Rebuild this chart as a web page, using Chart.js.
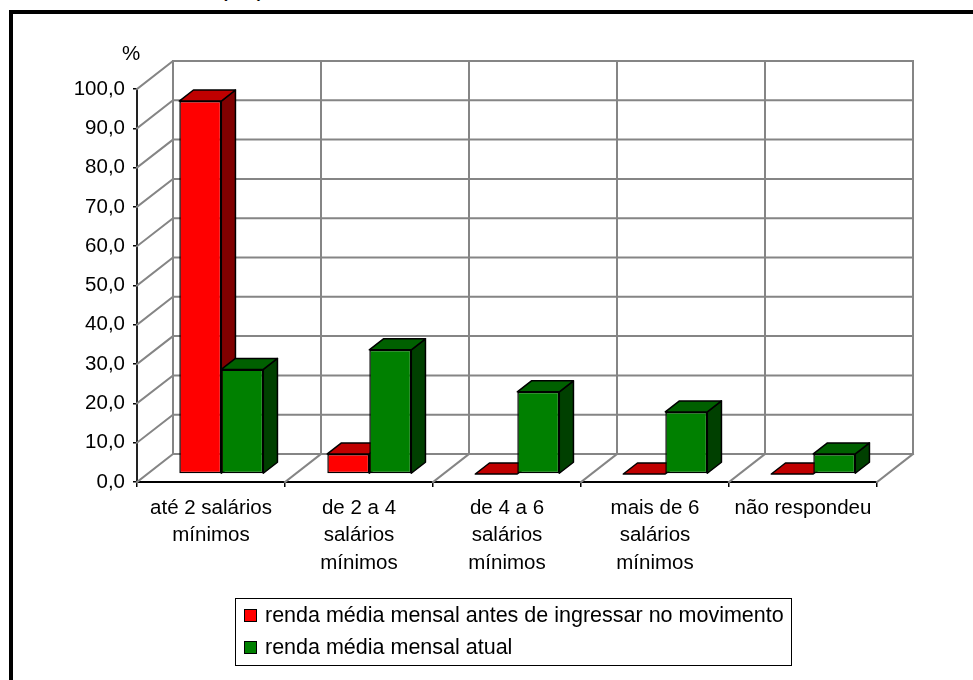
<!DOCTYPE html>
<html>
<head>
<meta charset="utf-8">
<script src="https://cdn.jsdelivr.net/npm/chart.js@4.4.1/dist/chart.umd.min.js"></script>
<style>
    body { margin: 0; background: #fff; }
    .wrap { position: relative; width: 973px; height: 680px; overflow: hidden; font-family: 'Liberation Sans', Arial, sans-serif; }
    .frame { position: absolute; left: 9px; top: 10px; width: 1000px; height: 700px; border: 4px solid #000; }
    .title { position: absolute; left: 219px; top: -26px; font-size: 26px; line-height: 26px; letter-spacing: 3px; }
    #renda { position: absolute; left: 0; top: 0; }
    #legend { position: absolute; left: 235px; top: 598px; width: 557px; height: 68px; box-sizing: border-box;
              border: 1px solid #000; padding-top: 0; font-size: 21.5px; }
    #legend .item { display: flex; align-items: center; height: 32px; }
    #legend .box { width: 13px; height: 13px; box-sizing: border-box; border: 1.5px solid #000; margin-left: 8px; margin-right: 8px; }
</style>
</head>
<body>
<div class="wrap">
    <div class="frame"></div>
    <div class="title">(%)</div>
    <canvas id="renda" width="973" height="680"></canvas>
    <div id="legend"></div>
</div>

<script>
    // faixas de renda
    const categories = [
        ['até 2 salários', 'mínimos'],
        ['de 2 a 4', 'salários', 'mínimos'],
        ['de 4 a 6', 'salários', 'mínimos'],
        ['mais de 6', 'salários', 'mínimos'],
        'não respondeu'
    ];
    const seriesNames = ['renda média mensal antes de ingressar no movimento', 'renda média mensal atual'];
    const rendaAntes = [94.9, 5.1, 0, 0, 0];
    const rendaAtual = [26.6, 31.6, 20.9, 15.8, 5.1];
    const yMin = 0, yMax = 100, yStep = 10;

    // profundidade do "3D": vetor da frente até a parede do fundo
    const depth = { dx: 36, dy: -28 };
    const barFront = 0.286, barBack = 0.679;
    const font = "'Liberation Sans', Arial, sans-serif";

    function line(ctx, pts) {
        ctx.beginPath();
        ctx.moveTo(pts[0][0], pts[0][1]);
        for (let i = 1; i < pts.length; i++) ctx.lineTo(pts[i][0], pts[i][1]);
        ctx.stroke();
    }

    function poly(ctx, pts, fill) {
        ctx.beginPath();
        ctx.moveTo(pts[0][0], pts[0][1]);
        for (let i = 1; i < pts.length; i++) ctx.lineTo(pts[i][0], pts[i][1]);
        ctx.closePath();
        ctx.fillStyle = fill;
        ctx.fill();
        ctx.stroke();
    }

    const wall3d = {
        id: 'wall3d',
        beforeDatasetsDraw(chart) {
            const { ctx, chartArea: a, scales: { x, y } } = chart;
            const { dx, dy } = depth;
            const n = chart.data.labels.length;
            const step = (a.right - a.left) / n;
            const y0 = y.getPixelForValue(y.min);
            const yTop = y.getPixelForValue(y.max);

            ctx.save();
            ctx.strokeStyle = '#858585';
            ctx.lineWidth = 2;
            ctx.lineCap = 'square';
            // parede lateral e linhas horizontais do fundo
            y.ticks.forEach(t => {
                const yy = y.getPixelForValue(t.value);
                line(ctx, [[a.left, yy], [a.left + dx, yy + dy], [a.right + dx, yy + dy]]);
            });
            // divisões verticais do fundo e do piso
            for (let i = 0; i <= n; i++) {
                const bx = a.left + i * step;
                line(ctx, [[bx + dx, y0 + dy], [bx + dx, yTop + dy]]);
                if (i > 0) line(ctx, [[bx, y0], [bx + dx, y0 + dy]]);
            }

            // laterais e topos das barras
            const ox = barFront * dx, oy = barFront * dy;
            const sx = (barBack - barFront) * dx, sy = (barBack - barFront) * dy;
            ctx.strokeStyle = '#000';
            ctx.lineWidth = 1.5;
            ctx.lineJoin = 'round';
            chart.data.datasets.forEach((ds, di) => {
                chart.getDatasetMeta(di).data.forEach(el => {
                    const p = el.getProps(['x', 'y', 'base', 'width'], true);
                    const L = p.x - p.width / 2 + ox, R = p.x + p.width / 2 + ox;
                    const T = p.y + oy, B = p.base + oy;
                    if (B - T > 0.5) poly(ctx, [[R, T], [R + sx, T + sy], [R + sx, B + sy], [R, B]], ds.sideColor);
                    poly(ctx, [[L, T], [R, T], [R + sx, T + sy], [L + sx, T + sy]], ds.topColor);
                });
            });
            ctx.restore();

            // frentes das barras ficam no plano de profundidade das barras
            ctx.save();
            ctx.translate(ox, oy);
        },
        afterDatasetsDraw(chart) {
            chart.ctx.restore();
        },
        afterDraw(chart) {
            const { ctx, chartArea: a, scales: { y } } = chart;
            ctx.save();
            ctx.fillStyle = '#000';
            ctx.font = '20.5px ' + font;
            ctx.textAlign = 'center';
            ctx.textBaseline = 'middle';
            ctx.fillText('%', a.left - 6, y.getPixelForValue(y.max) - 35);
            ctx.restore();
        }
    };

    const ctx = document.getElementById('renda').getContext('2d');
    const chart = new Chart(ctx, {
        type: 'bar',
        data: {
            labels: categories,
            datasets: [
                {
                    label: seriesNames[0],
                    data: rendaAntes,
                    backgroundColor: '#ff0000',
                    topColor: '#c00000',
                    sideColor: '#800000'
                },
                {
                    label: seriesNames[1],
                    data: rendaAtual,
                    backgroundColor: '#008000',
                    topColor: '#006000',
                    sideColor: '#004000'
                }
            ].map(ds => Object.assign(ds, {
                borderColor: '#000',
                borderWidth: 1.5,
                borderSkipped: false,
                categoryPercentage: 0.5676,
                barPercentage: 1,
                clip: false
            }))
        },
        options: {
            responsive: false,
            animation: false,
            layout: { padding: { left: 0, right: 96, top: 89, bottom: 98 } },
            plugins: {
                legend: { display: false },
                tooltip: { enabled: false }
            },
            scales: {
                x: {
                    offset: true,
                    afterFit: s => { s.height = 100; },
                    grid: { display: true, drawOnChartArea: false, offset: true, tickLength: 5, color: '#000', lineWidth: 1.5 },
                    border: { display: true, color: '#000', width: 2 },
                    ticks: {
                        color: '#000', autoSkip: false, maxRotation: 0, padding: 7,
                        font: { family: font, size: 20.5, lineHeight: 1.36 }
                    }
                },
                y: {
                    min: yMin,
                    max: yMax,
                    afterFit: s => { s.width = 137; },
                    grid: { display: true, drawOnChartArea: false, tickLength: 4, color: '#000', lineWidth: 1.5 },
                    border: { display: true, color: '#222', width: 2 },
                    ticks: {
                        stepSize: yStep, color: '#000', padding: 8,
                        font: { family: font, size: 20.5 },
                        callback: v => v.toFixed(1).replace('.', ',')
                    }
                }
            }
        },
        plugins: [wall3d]
    });

    // legenda em caixa, uma série por linha
    const legend = document.getElementById('legend');
    chart.data.datasets.forEach(ds => {
        const item = document.createElement('div');
        item.className = 'item';
        const box = document.createElement('span');
        box.className = 'box';
        box.style.background = ds.backgroundColor;
        const txt = document.createElement('span');
        txt.textContent = ds.label;
        item.appendChild(box);
        item.appendChild(txt);
        legend.appendChild(item);
    });
</script>
</body>
</html>
